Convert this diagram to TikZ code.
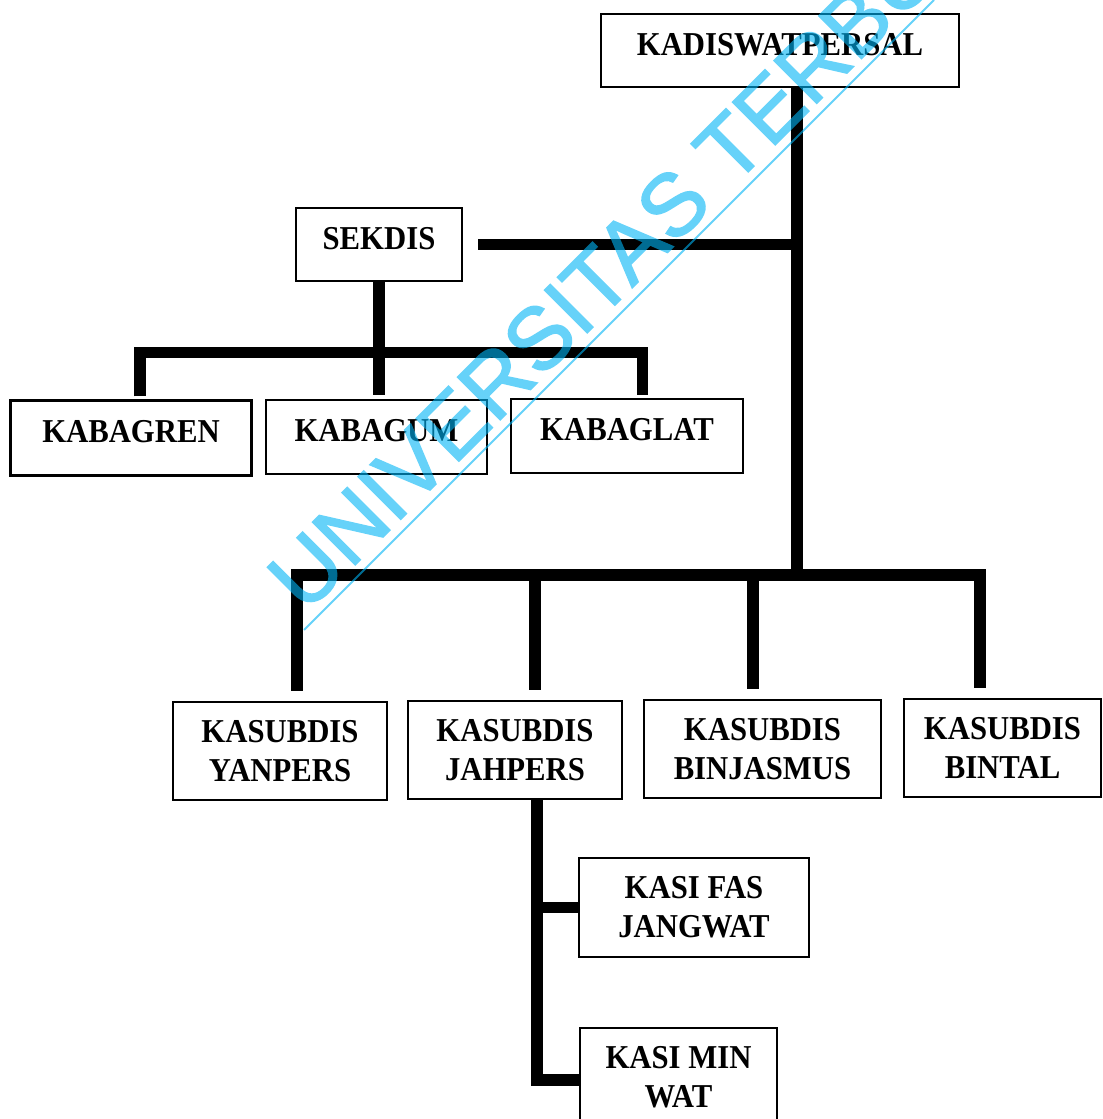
\documentclass[tikz,border=0pt]{standalone}
\usepackage{fontspec}
\setmainfont{Liberation Serif}[FakeStretch=0.92]
\newfontfamily\wmfont{Liberation Sans}[FakeBold=1.6]
\usepackage{tikz}
\definecolor{inkblack}{RGB}{0, 0, 0}
\definecolor{wmcyan}{RGB}{0, 180, 245}

\tikzset{
    box/.style    = {draw=inkblack, line width=1.3pt, inner sep=0pt, align=center,
                     font=\fontsize{19}{22}\selectfont\bfseries},
    single/.style = {text depth=7pt},
    bar/.style    = {draw=inkblack, line width=6.8pt},
    wmark/.style  = {inner sep=0pt, text=wmcyan,
                     font=\wmfont\fontsize{50}{50}\selectfont},
}

\begin{document}
\begin{tikzpicture}
            \useasboundingbox (0.00, 0.00) rectangle (22.04,-22.38);
            \clip             (0.00, 0.00) rectangle (22.04,-22.38);
            % boxes
            \node[box, single, minimum width=7.16cm, minimum height=1.46cm] (kadis)    at (15.60, -1.01) {KADISWATPERSAL};
            \node[box, single, minimum width=3.32cm, minimum height=1.46cm] (sekdis)   at ( 7.58, -4.89) {SEKDIS};
            \node[box, single, minimum width=4.82cm, minimum height=1.50cm] (kabagren) at ( 2.62, -8.76) {KABAGREN};
            \node[box, single, minimum width=4.42cm, minimum height=1.48cm] (kabagum)  at ( 7.53, -8.74) {KABAGUM};
            \node[box, single, minimum width=4.64cm, minimum height=1.48cm] (kabaglat) at (12.54, -8.72) {KABAGLAT};
            \node[box,         minimum width=4.28cm, minimum height=1.96cm] (yanpers)  at ( 5.60,-15.02) {KASUBDIS\\YANPERS};
            \node[box,         minimum width=4.28cm, minimum height=1.96cm] (jahpers)  at (10.30,-15.00) {KASUBDIS\\JAHPERS};
            \node[box,         minimum width=4.74cm, minimum height=1.96cm] (binjas)   at (15.25,-14.98) {KASUBDIS\\BINJASMUS};
            \node[box,         minimum width=3.94cm, minimum height=1.96cm] (bintal)   at (20.05,-14.96) {KASUBDIS\\BINTAL};
            \node[box,         minimum width=4.60cm, minimum height=1.98cm] (kasifas)  at (13.88,-18.15) {KASI FAS\\JANGWAT};
            \node[box,         minimum width=3.94cm, minimum height=1.96cm] (kasimin)  at (13.57,-21.54) {KASI MIN\\WAT};
            % junctions
            \coordinate (jt)      at (15.94, -4.89);
            \coordinate (bag)     at ( 7.58, -7.05);
            \coordinate (bagstem) at ( 7.58, -7.90);
            \coordinate (bus)     at (15.94,-11.50);
            % bars
            \draw[bar] (kadis.south -| bus) -- (bus);
            \draw[bar] ([xshift=3mm]sekdis.east) -- (jt);
            \draw[bar] (sekdis.south) -- (bagstem);
            \draw[bar] ([xshift=1.8mm,yshift=0.6mm]kabagren.north) |- (bag) -| ([xshift=3.1mm,yshift=0.6mm]kabaglat.north);
            \draw[bar] ([xshift=3.4mm,yshift=2mm]yanpers.north) |- (bus) -| ([xshift=-4.5mm,yshift=2mm]bintal.north);
            \draw[bar] ([xshift=4mm,yshift=2mm]jahpers.north) |- (bus);
            \draw[bar] ([xshift=-1.9mm,yshift=2mm]binjas.north) |- (bus);
            \draw[bar] ([xshift=4.4mm]jahpers.south) |- ([yshift=-0.6mm]kasimin.west);
            \draw[bar] (kasifas.west) -| ([xshift=4.4mm]jahpers.south);
            % watermark
            \begin{scope}[transparency group, opacity=0.6]
            \node[wmark, rotate=45, anchor=base west] (wm) at (6.10,-12.30) {UNIVERSITAS TERBUKA};
            \draw[wmcyan, line width=1.1pt] (6.08,-12.60) -- (18.68, 0.00);
            \end{scope}
        \end{tikzpicture}
\end{document}
